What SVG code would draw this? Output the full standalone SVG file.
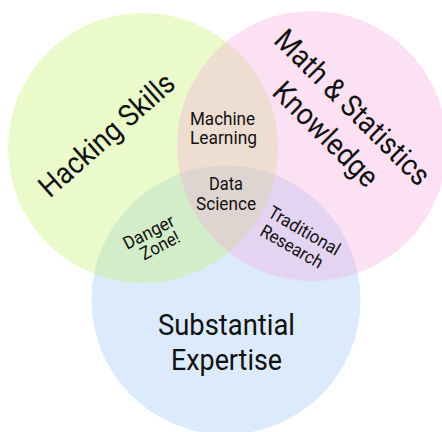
<svg xmlns="http://www.w3.org/2000/svg" width="442" height="432" viewBox="0 0 442 432">
<style>
.c{opacity:0.35}
text{font-family:Roboto,"Liberation Sans",sans-serif;fill:#111;text-anchor:middle}
.s{font-size:18px}
.l{font-size:30px}
</style>
<rect width="442" height="432" fill="#fff"/>
<g id="circles">
<circle id="expertise" class="c" cx="226" cy="300" r="134.5" fill="#9bc6f6"/>
<circle id="hacking" class="c" cx="143" cy="148" r="135" fill="#c6f16a"/>
<circle id="math" class="c" cx="312" cy="146" r="135" fill="#f4a9dd"/>
</g>
<g id="labels">
<text id="hacking-label" class="l" transform="translate(113.5,142.5) rotate(-41.5)" textLength="170" lengthAdjust="spacingAndGlyphs">Hacking Skills</text>
<g id="math-label" transform="translate(332,128) rotate(45)">
<text class="l" x="0" y="-19" textLength="206" lengthAdjust="spacingAndGlyphs">Math &amp; Statistics</text>
<text class="l" x="0" y="19" textLength="135" lengthAdjust="spacingAndGlyphs">Knowledge</text>
</g>
<g id="expertise-label">
<text class="l" x="226.5" y="335" textLength="137" lengthAdjust="spacingAndGlyphs">Substantial</text>
<text class="l" x="226.5" y="370" textLength="111" lengthAdjust="spacingAndGlyphs">Expertise</text>
</g>
<g id="ml-label">
<text class="s" x="222.5" y="125" textLength="65" lengthAdjust="spacingAndGlyphs">Machine</text>
<text class="s" x="223.5" y="144" textLength="67" lengthAdjust="spacingAndGlyphs">Learning</text>
</g>
<g id="ds-label">
<text class="s" x="226" y="190" textLength="34" lengthAdjust="spacingAndGlyphs">Data</text>
<text class="s" x="226" y="210" textLength="60" lengthAdjust="spacingAndGlyphs">Science</text>
</g>
<g id="danger-label" transform="translate(156,242) rotate(-27)">
<text class="s" x="-2" y="-6" textLength="55" lengthAdjust="spacingAndGlyphs">Danger</text>
<text class="s" x="2" y="11" textLength="42" lengthAdjust="spacingAndGlyphs">Zone!</text>
</g>
<g id="research-label" transform="translate(295,244) rotate(30)">
<text class="s" x="1.5" y="-10" textLength="80" lengthAdjust="spacingAndGlyphs">Traditional</text>
<text class="s" x="-1.5" y="10" textLength="69" lengthAdjust="spacingAndGlyphs">Research</text>
</g>
</g>
</svg>
